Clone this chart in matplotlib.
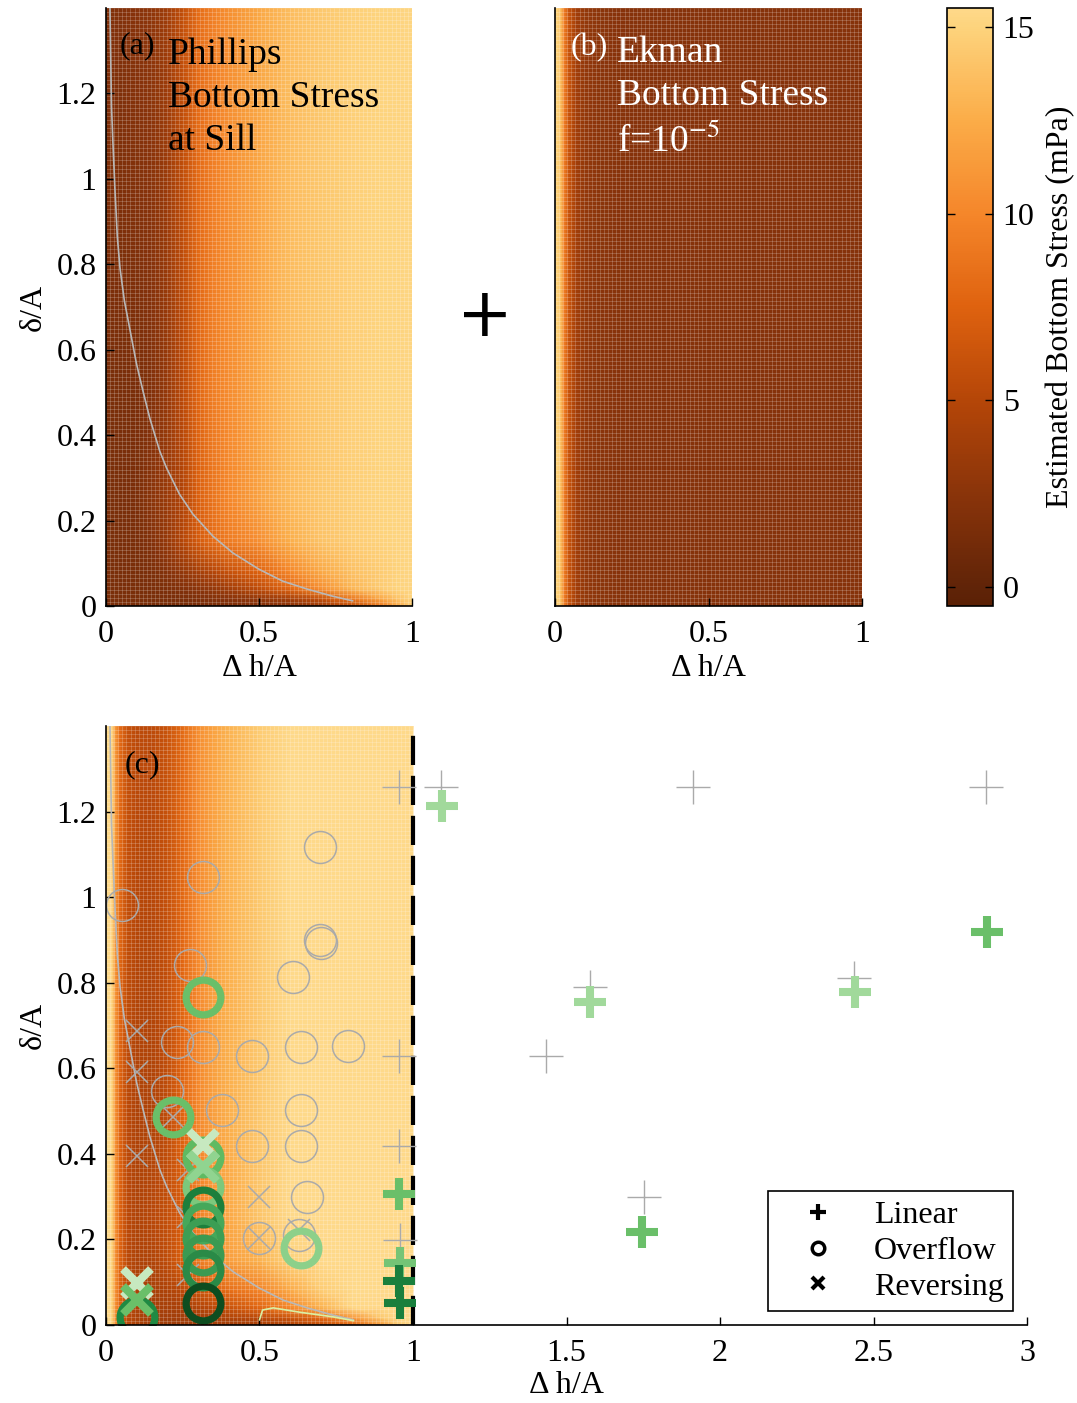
import matplotlib
matplotlib.use("Agg")
import matplotlib.pyplot as plt
import numpy as np
from matplotlib.colors import LinearSegmentedColormap
from matplotlib.lines import Line2D

plt.rcParams['font.family'] = ['Liberation Serif', 'DejaVu Serif']
plt.rcParams['mathtext.fontset'] = 'stix'

# ---- colour field grids (mPa) ----
grid_x = [0, 0.01, 0.02, 0.03, 0.045, 0.07, 0.1, 0.15, 0.2, 0.25,
          0.3, 0.35, 0.4, 0.5, 0.6, 0.7, 0.8, 0.9, 0.95, 1.0]
grid_y = [0, 0.015, 0.04, 0.08, 0.15, 0.25, 0.5, 0.9, 1.4]

phillips = [
    [1.5, 1.5, 1.5, 1.5, 1.5, 1.5, 1.5, 1.5, 1.5, 1.5, 1.6, 1.7, 1.8, 2.1, 2.6, 3.5, 5.5, 9.0, 12.0, 14.5],
    [1.5, 1.5, 1.5, 1.5, 1.5, 1.5, 1.5, 1.5, 1.5, 1.6, 1.8, 2.0, 2.3, 2.9, 3.8, 5.5, 8.5, 12.0, 13.8, 15.0],
    [1.5, 1.5, 1.5, 1.5, 1.5, 1.5, 1.5, 1.6, 1.8, 2.1, 2.5, 3.0, 3.8, 5.5, 7.8, 10.5, 13.0, 14.5, 15.0, 15.2],
    [1.5, 1.5, 1.5, 1.5, 1.5, 1.5, 1.5, 1.7, 2.2, 3.0, 4.0, 5.0, 6.0, 7.5, 10.0, 12.2, 13.8, 14.5, 14.9, 15.2],
    [1.5, 1.5, 1.5, 1.5, 1.5, 1.5, 1.6, 2.1, 3.2, 5.0, 6.8, 8.2, 9.2, 10.5, 12.6, 13.9, 14.5, 14.9, 15.1, 15.2],
    [1.5, 1.5, 1.5, 1.5, 1.5, 1.5, 1.7, 2.6, 3.5, 4.8, 7.2, 8.8, 10.0, 11.8, 13.4, 14.2, 14.7, 15.0, 15.1, 15.2],
    [1.5, 1.5, 1.5, 1.5, 1.5, 1.5, 1.6, 2.0, 3.2, 5.4, 7.8, 9.4, 10.4, 12.0, 13.5, 14.2, 14.7, 15.0, 15.1, 15.2],
    [1.8, 1.8, 1.8, 1.8, 1.8, 1.9, 2.0, 2.4, 3.5, 5.6, 8.0, 9.5, 10.5, 12.0, 13.5, 14.2, 14.7, 15.0, 15.1, 15.2],
    [2.0, 2.0, 2.0, 2.0, 2.0, 2.2, 2.4, 2.8, 3.8, 5.8, 8.2, 9.6, 10.6, 12.2, 13.6, 14.3, 14.8, 15.0, 15.1, 15.2],
]
ekman = [15.3, 14.8, 13.5, 9.5, 6.2, 3.9, 3.0, 2.6, 2.4, 2.3,
         2.3, 2.3, 2.3, 2.3, 2.3, 2.3, 2.3, 2.3, 2.3, 2.3]

# regime boundary curve
curve_x = [0.013, 0.018, 0.023, 0.029, 0.037, 0.046, 0.060, 0.078, 0.100, 0.122, 0.143,
           0.176, 0.198, 0.240, 0.284, 0.350, 0.415, 0.500, 0.578, 0.660, 0.740, 0.806]
curve_y = [1.40, 1.17, 1.08, 0.98, 0.865, 0.79, 0.715, 0.648, 0.566, 0.500, 0.440,
           0.362, 0.323, 0.262, 0.215, 0.163, 0.124, 0.086, 0.058, 0.039, 0.023, 0.012]
contour_x = [0.50, 0.51, 0.545, 0.63, 0.74, 0.806]
contour_y = [0.012, 0.035, 0.04, 0.03, 0.019, 0.01]

# ---- experiments (thin grey = all runs) ----
lin_x = [0.954, 1.09, 1.912, 2.866, 0.954, 1.433, 0.954, 1.577, 2.437, 1.752, 0.958]
lin_y = [1.258, 1.258, 1.258, 1.258, 0.629, 0.629, 0.419, 0.79, 0.812, 0.30, 0.199]
ovf_x = [0.697, 0.316, 0.052, 0.697, 0.700, 0.274, 0.609, 0.231, 0.316, 0.475, 0.635, 0.789,
         0.198, 0.378, 0.635, 0.475, 0.635, 0.655, 0.498, 0.63]
ovf_y = [1.118, 1.048, 0.982, 0.90, 0.893, 0.842, 0.814, 0.662, 0.650, 0.629, 0.650, 0.653,
         0.547, 0.503, 0.503, 0.419, 0.419, 0.30, 0.203, 0.21]
rev_x = [0.1, 0.1, 0.1, 0.218, 0.268, 0.268, 0.268, 0.497, 0.497, 0.63, 0.1, 0.316]
rev_y = [0.688, 0.592, 0.395, 0.487, 0.362, 0.253, 0.117, 0.30, 0.203, 0.222, 0.1, 0.42]

# ---- highlighted runs (thick green) ----
glin_x = [1.094, 1.577, 2.44, 2.87, 1.746, 0.954, 0.958, 0.954, 0.958]
glin_y = [1.214, 0.755, 0.778, 0.919, 0.218, 0.306, 0.145, 0.103, 0.051]
glin_c = ['#a1d99b', '#a1d99b', '#a1d99b', '#6abf69', '#6abf69', '#6abf69', '#74c476', '#1a7f3d', '#1a7f3d']
govf_x = [0.316, 0.218, 0.316, 0.316, 0.316, 0.316, 0.316, 0.316, 0.316, 0.316, 0.1, 0.635]
govf_y = [0.767, 0.487, 0.393, 0.323, 0.276, 0.238, 0.203, 0.164, 0.129, 0.051, 0.019, 0.18]
govf_c = ['#6abf69', '#6abf69', '#5fba62', '#7cc87c', '#1d7f3c', '#45a85a', '#3c9e54', '#3a9a52',
          '#2a8a47', '#0d4d20', '#1f8a43', '#8cd08a']
grev_x = [0.316, 0.316, 0.1, 0.1]
grev_y = [0.421, 0.37, 0.098, 0.059]
grev_c = ['#c7e9c0', '#90d490', '#c7e9c0', '#6abf69']

cbar_ticks = [0, 5, 10, 15]
y_ticks = [0, 0.2, 0.4, 0.6, 0.8, 1.0, 1.2]
y_labels = ['0', '0.2', '0.4', '0.6', '0.8', '1', '1.2']
xa_ticks = [0, 0.5, 1]
xa_labels = ['0', '0.5', '1']
xc_ticks = [0, 0.5, 1, 1.5, 2, 2.5, 3]
xc_labels = ['0', '0.5', '1', '1.5', '2', '2.5', '3']

cmap = LinearSegmentedColormap.from_list('stress', [
    (0.0, '#5a2005'), (0.5 / 16, '#612408'), (3.0 / 16, '#8a340a'), (5.5 / 16, '#b54608'),
    (8.0 / 16, '#df620f'), (10.5 / 16, '#f5862a'), (13.0 / 16, '#fbac48'),
    (15.5 / 16, '#fdd37c'), (1.0, '#fed98a')])
vmin, vmax = -0.5, 15.5

FS = 23
fig = plt.figure(figsize=(10.77, 14.03), dpi=100)
ax_a = fig.add_axes([0.0984, 0.5681, 0.2841, 0.4262])
ax_b = fig.add_axes([0.5153, 0.5681, 0.2851, 0.4262])
cax = fig.add_axes([0.8793, 0.5681, 0.0427, 0.4262])
ax_c = fig.add_axes([0.0984, 0.0556, 0.8552, 0.4269])

X, Y = np.meshgrid(grid_x, grid_y)
Za = np.array(phillips)
Zb = np.tile(np.array(ekman), (len(grid_y), 1))
Zc = Za + Zb


def texture(ax, xmax):
    # faint mesh like the original pcolor grid
    gx = np.linspace(0, xmax, 76)
    gy = np.linspace(0, 1.4, 150)
    ax.pcolormesh(gx, gy, np.zeros((149, 75)), facecolor='none',
                  edgecolors=(1, 1, 1, 0.10), linewidth=0.4)


def style(ax):
    for s in ['top', 'right']:
        ax.spines[s].set_visible(False)
    for s in ['left', 'bottom']:
        ax.spines[s].set_linewidth(1.2)
    ax.tick_params(direction='in', length=6, width=1, labelsize=FS, pad=7)
    ax.tick_params(axis='x', pad=10)


# (a)
mesh = ax_a.pcolormesh(X, Y, Za, shading='gouraud', cmap=cmap, vmin=vmin, vmax=vmax)
texture(ax_a, 1.0)
ax_a.plot(curve_x, curve_y, color='#b8b8b8', lw=1.2)
ax_a.set_xlim(0, 1)
ax_a.set_ylim(0, 1.4)
ax_a.set_xticks(xa_ticks, xa_labels)
ax_a.set_yticks(y_ticks, y_labels)
style(ax_a)
ax_a.set_xlabel('Δ h/A', fontsize=FS, labelpad=4)
ax_a.set_ylabel('δ/A', fontsize=FS, labelpad=6)
ax_a.text(0.046, 1.312, '(a)', fontsize=23, va='center')
ax_a.text(0.203, 1.332, 'Phillips\nBottom Stress\nat Sill', fontsize=27, va='top', linespacing=1.32)

# (b)
ax_b.pcolormesh(X, Y, Zb, shading='gouraud', cmap=cmap, vmin=vmin, vmax=vmax)
texture(ax_b, 1.0)
ax_b.set_xlim(0, 1)
ax_b.set_ylim(0, 1.4)
ax_b.set_xticks(xa_ticks, xa_labels)
ax_b.set_yticks([])
style(ax_b)
ax_b.set_xlabel('Δ h/A', fontsize=FS, labelpad=4)
ax_b.text(0.052, 1.307, '(b)', fontsize=23, va='center', color='white')
ax_b.text(0.202, 1.335, 'Ekman\nBottom Stress\nf=10$^{-5}$', fontsize=27, va='top',
          color='white', linespacing=1.32)

# colourbar
cb = fig.colorbar(mesh, cax=cax, ticks=cbar_ticks)
cb.outline.set_linewidth(1.2)
cax.tick_params(direction='in', length=6, width=1, labelsize=FS, left=True, right=True, pad=7)
cb.set_label('Estimated Bottom Stress (mPa)', fontsize=FS, labelpad=8)

fig.text(485 / 1077, 1 - 317 / 1403, '+', fontsize=48, ha='center', va='center',
         family='DejaVu Sans')

# (c)
ax_c.pcolormesh(X, Y, Zc, shading='gouraud', cmap=cmap, vmin=vmin, vmax=vmax)
texture(ax_c, 1.0)
ax_c.plot(curve_x, curve_y, color='#b8b8b8', lw=1.2)
ax_c.plot(contour_x, contour_y, color='#d9f0a3', lw=1.2)
ax_c.plot([1, 1], [0, 1.38], color='black', lw=3, dashes=(7, 2.6))

grey = '#aaaaaa'
ax_c.plot(lin_x, lin_y, '+', color=grey, ms=24, mew=1.0, ls='none')
ax_c.plot(ovf_x, ovf_y, 'o', mfc='none', mec=grey, ms=23, mew=1.1, ls='none')
ax_c.plot(rev_x, rev_y, 'x', color=grey, ms=16.5, mew=1.1, ls='none')

for x, y, c in zip(glin_x, glin_y, glin_c):
    ax_c.plot(x, y, '+', color=c, ms=23, mew=5.8)
for x, y, c in zip(govf_x, govf_y, govf_c):
    ax_c.plot(x, y, 'o', mfc='none', mec=c, ms=25, mew=5.2)
for x, y, c in zip(grev_x, grev_y, grev_c):
    ax_c.plot(x, y, 'x', color=c, ms=20, mew=5.8)

ax_c.set_xlim(0, 3)
ax_c.set_ylim(0, 1.4)
ax_c.set_xticks(xc_ticks, xc_labels)
ax_c.set_yticks(y_ticks, y_labels)
style(ax_c)
ax_c.set_xlabel('Δ h/A', fontsize=FS, labelpad=2)
ax_c.set_ylabel('δ/A', fontsize=FS, labelpad=6)
ax_c.text(0.062, 1.31, '(c)', fontsize=23, va='center')

handles = [
    Line2D([], [], marker='+', color='black', ls='none', ms=11, mew=3),
    Line2D([], [], marker='o', mfc='none', mec='black', ls='none', ms=9, mew=2.5),
    Line2D([], [], marker='x', color='black', ls='none', ms=8, mew=3),
]
leg = ax_c.legend(handles, ['Linear', 'Overflow', 'Reversing'], loc='lower right',
                  bbox_to_anchor=(0.985, 0.023), borderaxespad=0, fontsize=FS,
                  fancybox=False, edgecolor='black', framealpha=1, handlelength=2.5,
                  handletextpad=0.5, borderpad=0.3, labelspacing=0.2)
leg.get_frame().set_linewidth(1.2)

fig.savefig('out.png', dpi=100)
